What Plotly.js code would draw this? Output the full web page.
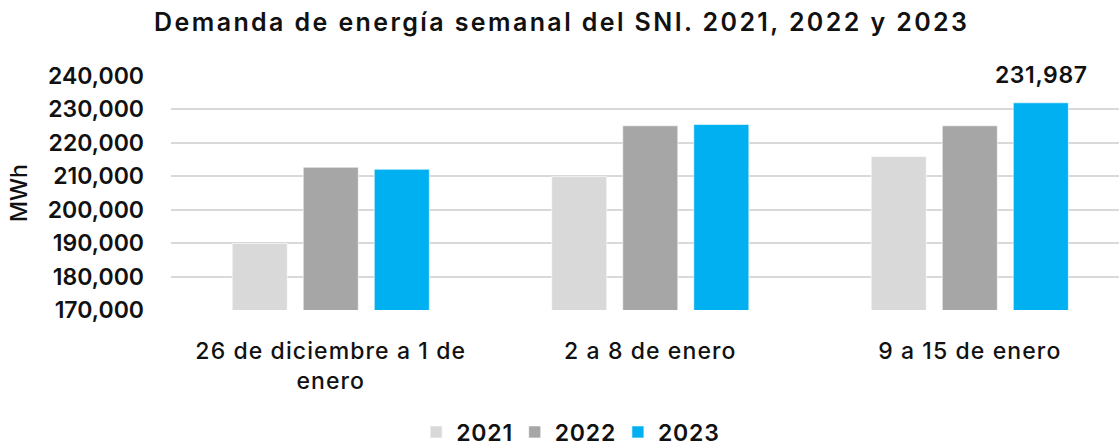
<!DOCTYPE html>
<html>
<head>
<meta charset="utf-8">
<script src="https://cdn.plot.ly/plotly-3.0.1.min.js"></script>
<style>
html,body{margin:0;padding:0;background:#fff;}
#chart{width:1119px;height:447px;}
#chart .gtitle{letter-spacing:2.4px;}
#chart .xtick text{letter-spacing:1.1px;}
#chart .legendtext{letter-spacing:0.8px;}
#chart .annotation-text{letter-spacing:0.6px;}
</style>
</head>
<body>
<div id="chart"></div>
<script>
const categories = ['26 de diciembre a 1 de<br>enero', '2 a 8 de enero', '9 a 15 de enero'];
const seriesNames = ['2021', '2022', '2023'];
const values2021 = [189900, 209900, 215900];
const values2022 = [212700, 225100, 225100];
const values2023 = [212100, 225500, 231987];
const labelIndex2023 = 2;
const yTickVals = [170000, 180000, 190000, 200000, 210000, 220000, 230000, 240000];

const FONT = 'Inter, "Open Sans", sans-serif';
const colors = ['#D9D9D9', '#A6A6A6', '#00B0F0'];
const allValues = [values2021, values2022, values2023];

const traces = allValues.map((vals, k) => ({
  type: 'bar',
  name: seriesNames[k],
  x: categories,
  y: vals,
  marker: {color: colors[k], line: {color: 'rgba(255,255,255,0.6)', width: 1}},
  hoverinfo: 'x+y'
}));

const layout = {
  width: 1119, height: 447,
  margin: {l: 171, r: 0, t: 76, b: 137, autoexpand: false},
  paper_bgcolor: '#fff', plot_bgcolor: '#fff',
  font: {family: FONT, color: '#111'},
  title: {
    text: 'Demanda de energía semanal del SNI. 2021, 2022 y 2023',
    font: {family: FONT, size: 25, color: '#111', weight: 600},
    x: 0.502, xanchor: 'center', xref: 'container',
    y: 1 - 22 / 447, yanchor: 'middle', yref: 'container'
  },
  barmode: 'group',
  bargap: 0.333,
  bargroupgap: 0.225,
  showlegend: true,
  legend: {
    orientation: 'h', x: 0.42, xanchor: 'center', xref: 'paper',
    y: -(432 - 310) / 234, yanchor: 'middle',
    font: {family: FONT, size: 23, color: '#111', weight: 600},
    itemwidth: 30, traceorder: 'normal'
  },
  annotations: [{
    xref: 'x', yref: 'y',
    x: categories[labelIndex2023], y: values2023[labelIndex2023],
    xshift: 71, yshift: 12,
    text: values2023[labelIndex2023].toLocaleString('en-US'),
    showarrow: false, xanchor: 'center', yanchor: 'bottom',
    font: {family: FONT, size: 23, color: '#111', weight: 600}
  }],
  xaxis: {
    type: 'category',
    range: [-0.5, 2.467],
    showgrid: false, zeroline: false, showline: false,
    ticks: '', tickfont: {family: FONT, size: 23, color: '#111', weight: 500},
    ticklabelstandoff: 25
  },
  yaxis: {
    range: [170000, 240000],
    tickvals: yTickVals,
    tickformat: ',d',
    showgrid: true, gridcolor: '#D9D9D9', gridwidth: 2,
    zeroline: false, showline: false,
    ticks: '', ticklabelstandoff: 26,
    tickfont: {family: FONT, size: 23, color: '#111', weight: 600},
    title: {text: 'MWh', font: {family: FONT, size: 23, color: '#111', weight: 500}, standoff: 13}
  }
};

Plotly.newPlot('chart', traces, layout, {displayModeBar: false, staticPlot: true});
</script>
</body>
</html>
